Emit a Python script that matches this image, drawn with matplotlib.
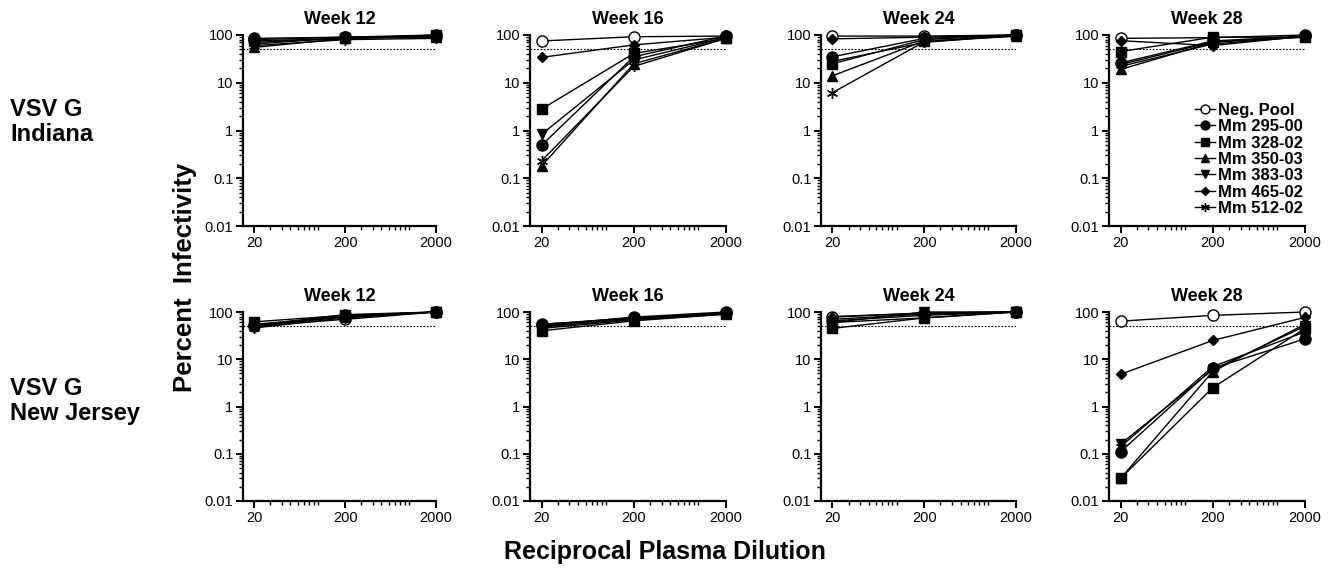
import numpy as np
import matplotlib
matplotlib.use("Agg")
from matplotlib import pyplot as plt
from matplotlib.ticker import FixedLocator, FixedFormatter, NullFormatter

plt.rcParams["font.family"] = ["Liberation Sans", "DejaVu Sans"]

dilutions = [20, 200, 2000]
weeks = ["Week 12", "Week 16", "Week 24", "Week 28"]
samples = ["Neg. Pool", "Mm 295-00", "Mm 328-02", "Mm 350-03",
           "Mm 383-03", "Mm 465-02", "Mm 512-02"]

# percent infectivity, per week, per sample, at 20 / 200 / 2000
indiana = {
    "Week 12": [[80, 90, 100], [85, 90, 95], [75, 85, 100], [55, 85, 90],
                [70, 85, 95], [65, 88, 92], [60, 80, 85]],
    "Week 16": [[75, 92, 95], [0.49, 35, 95], [2.8, 41, 85], [0.18, 25, 85],
                [0.83, 30, 88], [34, 62, 90], [0.23, 22, 85]],
    "Week 24": [[95, 95, 100], [35, 85, 100], [25, 80, 100], [14, 75, 95],
                [28, 70, 100], [83, 90, 100], [6.2, 72, 95]],
    "Week 28": [[85, 88, 100], [26, 75, 95], [45, 90, 90], [19, 70, 95],
                [22, 65, 92], [76, 60, 95], [24, 72, 90]],
}
new_jersey = {
    "Week 12": [[50, 70, 100], [52, 88, 100], [62, 85, 100], [55, 80, 100],
                [52, 78, 100], [48, 82, 100], [46, 75, 100]],
    "Week 16": [[55, 75, 95], [52, 78, 100], [40, 65, 90], [55, 72, 95],
                [48, 70, 92], [50, 75, 95], [45, 68, 90]],
    "Week 24": [[78, 95, 100], [65, 85, 100], [45, 75, 100], [70, 90, 100],
                [60, 100, 100], [80, 95, 100], [60, 75, 100]],
    "Week 28": [[64, 85, 100], [0.11, 6.4, 27], [0.03, 2.5, 45], [0.03, 5.5, 55],
                [0.16, 6, 50], [4.8, 25, 77], [0.14, 7, 38]],
}

markers = ["o", "o", "s", "^", "v", "D", (6, 2, 0)]
mfcs = ["white", "black", "black", "black", "black", "black", "black"]
msizes = [8, 8, 7, 7, 7, 5, 8]

fig = plt.figure(figsize=(13.29, 5.71), dpi=100)

lefts = [243, 530, 821, 1109]
widths = [193, 196, 195, 196]
rows = [(35, 226), (312, 501)]
W, H = 1329, 571


def style_axis(ax):
    ax.set_xscale("log")
    ax.set_yscale("log")
    ax.set_xlim(15, 2000)
    ax.set_ylim(0.01, 100)
    ax.spines["top"].set_visible(False)
    ax.spines["right"].set_visible(False)
    ax.spines["left"].set_linewidth(1.6)
    ax.spines["bottom"].set_linewidth(1.6)
    ax.xaxis.set_major_locator(FixedLocator(dilutions))
    ax.xaxis.set_major_formatter(FixedFormatter(["20", "200", "2000"]))
    minor_x = [30, 40, 50, 60, 70, 80, 90, 100,
               300, 400, 500, 600, 700, 800, 900, 1000]
    ax.xaxis.set_minor_locator(FixedLocator(minor_x))
    ax.xaxis.set_minor_formatter(NullFormatter())
    yt = [0.01, 0.1, 1, 10, 100]
    ax.yaxis.set_major_locator(FixedLocator(yt))
    ax.yaxis.set_major_formatter(FixedFormatter(["0.01", "0.1", "1", "10", "100"]))
    minor_y = [m * 10.0 ** e for e in range(-2, 2) for m in range(2, 10)]
    ax.yaxis.set_minor_locator(FixedLocator(minor_y))
    ax.yaxis.set_minor_formatter(NullFormatter())
    ax.tick_params(which="major", length=5, width=1.4, labelsize=10.5, pad=2)
    ax.tick_params(which="minor", length=3, width=1.0)


for r, (data, (top, bottom)) in enumerate(zip([indiana, new_jersey], rows)):
    for c, week in enumerate(weeks):
        ax = fig.add_axes([lefts[c] / W, 1 - bottom / H, widths[c] / W, (bottom - top) / H])
        style_axis(ax)
        ax.axhline(50, color="black", linestyle=(0, (1.5, 1.5)), linewidth=0.8)
        for i, name in enumerate(samples):
            ax.plot(dilutions, data[week][i], color="black", linewidth=1.0,
                    marker=markers[i], markersize=msizes[i],
                    markerfacecolor=mfcs[i], markeredgecolor="black",
                    markeredgewidth=1.0, label=name, clip_on=False, zorder=3)
        ax.set_title(week, fontsize=13, fontweight="bold", pad=8)
        if r == 0 and c == 3:
            ax.legend(loc="lower right", bbox_to_anchor=(1.04, 0.0), frameon=False,
                      prop={"weight": "bold", "size": 12}, handlelength=1.2,
                      handletextpad=0.15, labelspacing=0.08, borderaxespad=0.2,
                      markerscale=0.8)

fig.text(10 / W, 1 - 122 / H, "VSV G\nIndiana", fontsize=17, fontweight="bold",
         va="center", ha="left", linespacing=1.1)
fig.text(10 / W, 1 - 401 / H, "VSV G\nNew Jersey", fontsize=17, fontweight="bold",
         va="center", ha="left", linespacing=1.1)
fig.text(185 / W, 1 - 277 / H, "Percent  Infectivity", fontsize=18.5, fontweight="bold",
         rotation=90, va="center", ha="center")
fig.text(665 / W, 1 - 552 / H, "Reciprocal Plasma Dilution", fontsize=18,
         fontweight="bold", va="center", ha="center")

fig.savefig("out.png", dpi=100)
